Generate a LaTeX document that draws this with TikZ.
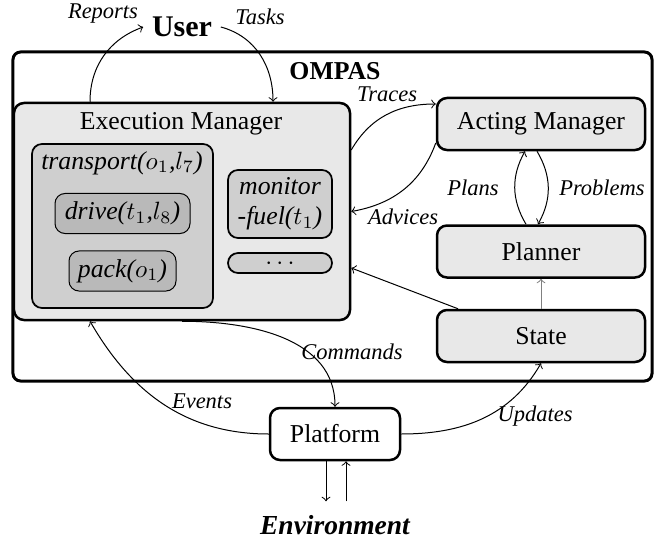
\documentclass[tikz,border=0pt]{standalone}
\usepackage{fontspec}
\setmainfont{Liberation Serif}
\usetikzlibrary{arrows,positioning}
\usetikzlibrary{shapes.misc}

\begin{document}
\begin{tikzpicture}[x=0.4pt,y=0.4pt,>=to,
		every node/.style={font=\fontsize{10.3}{12}\selectfont},
		box/.style={draw,line width=1pt,rounded corners=4pt,fill=gray!18,minimum width=83.2pt,minimum height=20.8pt},
		task/.style={draw,line width=0.7pt,rounded corners=4pt,fill=gray!38},
		subtask/.style={draw,line width=0.4pt,rounded corners=4pt,fill=gray!55,font=\fontsize{10.3}{12}\selectfont\itshape},
		lbl/.style={font=\fontsize{9}{11}\selectfont\itshape}]
		\useasboundingbox (0,0) rectangle (665,-539);

		\node[draw,line width=1.2pt,rounded corners=3pt,minimum width=255.6pt,minimum height=131.6pt] (ompas) at (332.5,-216.5) {};
		\node[font=\fontsize{10.3}{12}\selectfont\bfseries] (ompasT) at (335,-71) {OMPAS};
		\node[font=\fontsize{12}{14}\selectfont\bfseries] (user) at (182,-27) {User};

		\node[box,minimum width=134.4pt,minimum height=86.8pt] (em) at (182,-211.5) {};
		\node (emT) at (181,-124) {Execution Manager};
		\node[task,minimum width=72.4pt,minimum height=65.6pt] (tr) at (122.5,-226) {};
		\node[font=\fontsize{10.3}{12}\selectfont\itshape] (trT) at (122,-163) {transport($o_1$,$l_7$)};
		\node[subtask,minimum width=54pt,minimum height=15.6pt] (dr) at (122.5,-213.5) {drive($t_1$,$l_8$)};
		\node[subtask,minimum width=42.8pt,minimum height=16pt] (pk) at (122.5,-271) {pack($o_1$)};
		\node[task,minimum width=41.6pt,minimum height=27.2pt,inner sep=1pt,align=center,font=\fontsize{10.3}{12}\selectfont\itshape] (mf) at (280,-204) {monitor\\-fuel($t_1$)};
		\node[task,minimum width=41.6pt,minimum height=8pt,inner sep=0pt,text height=5.2pt,text depth=0pt] (dots) at (280,-263) {$\cdots$};

		\node[box] (am) at (541,-124) {Acting Manager};
		\node[box] (pl) [below=29.2pt of am] {Planner};
		\node[box] (st) [below=12pt of pl] {State};

		\node[draw,line width=1pt,rounded corners=4pt,fill=white,minimum width=52pt,minimum height=20.8pt] (pf) at (335,-434) {Platform};
		\node[font=\fontsize{11}{13}\selectfont\bfseries\itshape] (env) [below=18pt of pf] {Environment};
		\coordinate (envD) at ([shift={(-3.6pt,-16pt)}]pf.south);
		\coordinate (envU) at ([shift={(4.4pt,-16pt)}]pf.south);

		\path[->]
		([xshift=-36.8pt]em.north) edge [out=90,in=200] (user.west)
		(user.east) edge [out=-15,in=90] ([xshift=36.4pt]em.north)
		([yshift=24.6pt]em.east) edge [out=60,in=180] ([yshift=8pt]am.west)
		([yshift=-7.6pt]am.west) edge [out=250,in=10] (em.east)
		([xshift=-6pt]pl.north) edge [bend left=30] ([xshift=-6.4pt]am.south)
		([xshift=-1.6pt]am.south) edge [bend left=30] ([xshift=-1.2pt]pl.north)
		(st.north) edge [draw=gray] (pl.south)
		([xshift=-33.2pt]st.north) edge ([yshift=-22.6pt]em.east)
		(em.south) edge [out=0,in=90] (pf.north)
		(pf.west) edge [out=180,in=-60] ([xshift=-36.8pt]em.south)
		(pf.east) edge [out=0,in=-120] (st.south)
		(pf.south -| envD) edge (envD)
		(envU) edge (pf.south -| envU)
		;

		\node[lbl] (lRep) at (103,-14) {Reports};
		\node[lbl] (lTask) at (260,-17) {Tasks};
		\node[lbl] (lTrace) at (387,-94) {Traces};
		\node[lbl] (lAdv) at (403,-217) {Advices};
		\node[lbl] (lPlan) at (473,-188) {Plans};
		\node[lbl] (lProb) at (602,-188) {Problems};
		\node[lbl] (lCmd) at (352,-352) {Commands};
		\node[lbl] (lEvt) at (202,-401) {Events};
		\node[lbl] (lUpd) at (535,-416) {Updates};
	\end{tikzpicture}
\end{document}
